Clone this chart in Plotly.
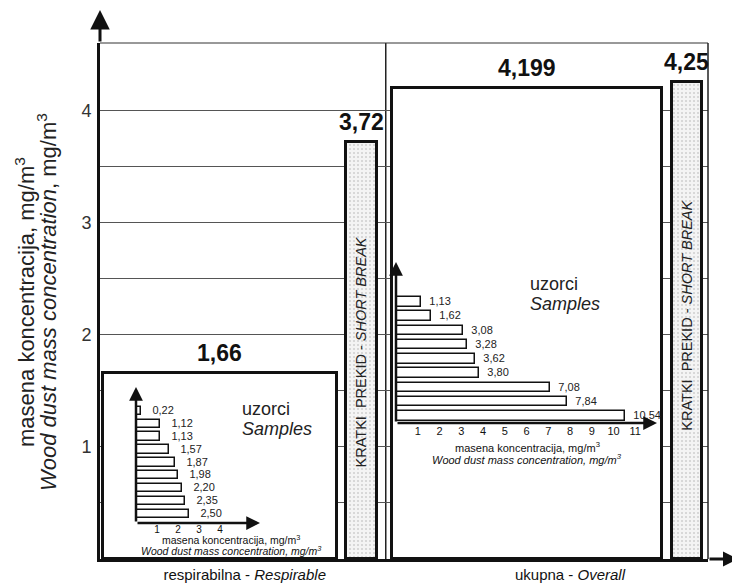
import plotly.graph_objects as go

# ---------------- data ----------------
categories = ["respirabilna - <i>Respirable</i>", "ukupna - <i>Overall</i>"]
main_values = [1.66, 4.199]          # respirable, overall
break_values = [3.72, 4.25]          # short break (respirable, overall)
break_label = "KRATKI  PREKID - <i>SHORT BREAK</i>"
y_tick_vals = [0.5, 1, 1.5, 2, 2.5, 3, 3.5, 4]
y_tick_text = ["", "1", "", "2", "", "3", "", "4"]

resp_samples = [0.22, 1.12, 1.13, 1.57, 1.87, 1.98, 2.20, 2.35, 2.50]
resp_ticks = [1, 2, 3, 4]
overall_samples = [1.13, 1.62, 3.08, 3.28, 3.62, 3.80, 7.08, 7.84, 10.54]
overall_ticks = list(range(1, 12))

samples_text = ["uzorci", "<i>Samples</i>"]
inset_title = ["masena koncentracija, mg/m<sup>3</sup>",
               "<i>Wood dust mass concentration, mg/m<sup>3</sup></i>"]
y_title = ["masena koncentracija, mg/m<sup>3</sup>",
           "<i>Wood dust mass concentration</i>, mg/m<sup>3</sup>"]

# ---------------- layout geometry ----------------
# the page body adds an 8px offset; plot area targeted at window px x 100..708, y 43..559
OFF = 8
W, H = 740 - OFF, 584 - OFF
PL, PR, PT, PB = 100, 708, 43, 559
L, R, T, B = PL - OFF, W + OFF - PR, PT - OFF, H + OFF - PB
PW, PH = PR - PL, PB - PT


def px_x(p):
    return (p - PL) / PW


def px_y(p):
    return (PB - p) / PH


main_centers = [19.7, 70.2]
main_widths = [38.5, 44.4]
break_centers = [43.0, 96.5]
break_widths = [5.1, 4.9]
cat_pos = [23.8, 77.3]
divider_x = 47.0

FONT = "Liberation Sans, Arial, sans-serif"


def fmt(v, d=None):
    s = f"{v:.{d}f}" if d is not None else f"{v}"
    return s.replace(".", ",")


fig = go.Figure()

# main bars
fig.add_trace(go.Bar(
    x=main_centers, y=main_values, width=main_widths,
    marker=dict(color="white", line=dict(color="#111", width=3)),
    showlegend=False, hoverinfo="skip"))
fig.add_trace(go.Bar(
    x=break_centers, y=break_values, width=break_widths,
    marker=dict(color="#f4f4f4", line=dict(color="#111", width=3),
                pattern=dict(shape=".", fgcolor="#aaaaaa", size=4,
                             solidity=0.2, fillmode="overlay")),
    showlegend=False, hoverinfo="skip"))

# inset 1 (respirable samples)
n1 = len(resp_samples)
fig.add_trace(go.Bar(
    x=resp_samples, y=list(range(n1))[::-1], orientation="h", width=0.65,
    marker=dict(color="white", line=dict(color="#111", width=1.5)),
    text=["   " + fmt(v, 2) for v in resp_samples], textposition="outside",
    textfont=dict(size=11, color="#222", family=FONT),
    constraintext="none", cliponaxis=False,
    xaxis="x2", yaxis="y2", showlegend=False, hoverinfo="skip"))

# inset 2 (overall samples)
n2 = len(overall_samples)
fig.add_trace(go.Bar(
    x=overall_samples, y=list(range(n2))[::-1], orientation="h", width=0.67,
    marker=dict(color="white", line=dict(color="#111", width=1.5)),
    text=["  " + fmt(v, 2) for v in overall_samples], textposition="outside",
    textfont=dict(size=11, color="#222", family=FONT),
    constraintext="none", cliponaxis=False,
    xaxis="x3", yaxis="y3", showlegend=False, hoverinfo="skip"))

x2_range = [0, 5.9]
y2_range = [-0.7, 9.85]
x3_range = [0, 12.0]
y3_range = [-0.5, 10.8]


def txt(x, y, text, size, xref="paper", yref="paper", angle=0, xanchor="center",
        yanchor="middle", color="#222", **kw):
    d = dict(x=x, y=y, xref=xref, yref=yref, text=text, textangle=angle,
             xanchor=xanchor, yanchor=yanchor, showarrow=False,
             font=dict(size=size, color=color, family=FONT))
    d.update(kw)
    return d


ann = []
# y-axis title (two lines)
ann.append(txt(px_x(25), px_y(302), y_title[0], 22, angle=-90))
ann.append(txt(px_x(47), px_y(302), y_title[1], 22, angle=-90))

# value labels
for c, v in zip(main_centers + break_centers, main_values + break_values):
    ann.append(txt(c, v, "<b>" + fmt(v) + "</b>", 23, xref="x", yref="y",
                   yanchor="bottom", yshift=5, color="#111"))

# short break text
for c, py in zip(break_centers, [352, 315]):
    ann.append(txt(c, px_y(py), break_label, 14.5, xref="x", angle=-90))

# uzorci / Samples
for (px0, py0) in [(240, 409), (528, 284)]:
    ann.append(txt(px_x(px0), px_y(py0), samples_text[0], 18, xanchor="left"))
    ann.append(txt(px_x(px0), px_y(py0 + 20), samples_text[1], 18, xanchor="left"))

# inset axis titles
for (cx, y1, y2, fs) in [(231, 539, 550, 10.5), (527, 447, 459, 11)]:
    ann.append(txt(px_x(cx), px_y(y1), inset_title[0], fs, color="#111"))
    ann.append(txt(px_x(cx), px_y(y2), inset_title[1], fs, color="#111"))

# main axis arrows
ann.append(dict(x=0, y=px_y(10), xref="paper", yref="paper", ax=0, ay=33,
                text="", showarrow=True, arrowhead=2, arrowsize=1.3, arrowwidth=3, arrowcolor="#111"))
ann.append(dict(x=px_x(738), y=0, xref="paper", yref="paper", ax=-30, ay=0,
                text="", showarrow=True, arrowhead=2, arrowsize=1.0, arrowwidth=3, arrowcolor="#111"))

# inset arrows
for xa, ya, xr, yr, w in [("x2", "y2", x2_range, y2_range, 2.5), ("x3", "y3", x3_range, y3_range, 2.5)]:
    ann.append(dict(x=0, y=yr[1], xref=xa, yref=ya, ax=0, ay=yr[0], axref=xa, ayref=ya,
                    text="", showarrow=True, arrowhead=2, arrowsize=1.1, arrowwidth=w, arrowcolor="#111"))
    ann.append(dict(x=xr[1], y=yr[0], xref=xa, yref=ya, ax=0, ay=yr[0], axref=xa, ayref=ya,
                    text="", showarrow=True, arrowhead=2, arrowsize=1.1, arrowwidth=w, arrowcolor="#111"))

shapes = [
    dict(type="line", xref="paper", yref="paper", x0=0, x1=1, y0=1, y1=1,
         line=dict(color="#333", width=1)),
    dict(type="line", xref="paper", yref="paper", x0=1, x1=1, y0=0, y1=1,
         line=dict(color="#222", width=1.5)),
    dict(type="line", xref="x", yref="paper", x0=divider_x, x1=divider_x, y0=0, y1=1,
         line=dict(color="#222", width=1.5), layer="below"),
]

fig.update_layout(
    width=W, height=H,
    margin=dict(l=L, r=R, t=T, b=B, autoexpand=False),
    paper_bgcolor="white", plot_bgcolor="rgba(0,0,0,0)",
    font=dict(family=FONT, color="#222"),
    bargap=0, barmode="overlay",
    xaxis=dict(range=[0, 100], tickvals=cat_pos, ticktext=categories, automargin=False,
               tickfont=dict(size=15, color="#111"), showgrid=False, zeroline=False,
               showline=True, linewidth=3, linecolor="#111", ticks="", ticklen=0,
               ticklabelstandoff=0),
    yaxis=dict(range=[0, 4.6], tickvals=y_tick_vals, ticktext=y_tick_text, automargin=False,
               tickfont=dict(size=18, color="#333"), showgrid=True, gridcolor="#555", gridwidth=1,
               zeroline=False, showline=True, linewidth=3, linecolor="#111", ticks="", ticklen=0,
               ticklabelstandoff=2),
    xaxis2=dict(domain=[px_x(136), px_x(260)], anchor="y2", range=x2_range, automargin=False,
                tickvals=resp_ticks, tickfont=dict(size=10, color="#111"), ticklen=0,
                ticklabelstandoff=-1,
                showgrid=False, zeroline=False, showline=False, ticks=""),
    yaxis2=dict(domain=[px_y(523), px_y(387)], anchor="x2", range=y2_range, automargin=False,
                showticklabels=False, showgrid=False, zeroline=False, showline=False),
    xaxis3=dict(domain=[px_x(396), px_x(657)], anchor="y3", range=x3_range, automargin=False,
                tickvals=overall_ticks, tickfont=dict(size=11, color="#111"), ticklen=0,
                showgrid=False, zeroline=False, showline=False, ticks=""),
    yaxis3=dict(domain=[px_y(423), px_y(262)], anchor="x3", range=y3_range, automargin=False,
                showticklabels=False, showgrid=False, zeroline=False, showline=False),
    annotations=ann, shapes=shapes,
)

fig.write_html("out.html")
